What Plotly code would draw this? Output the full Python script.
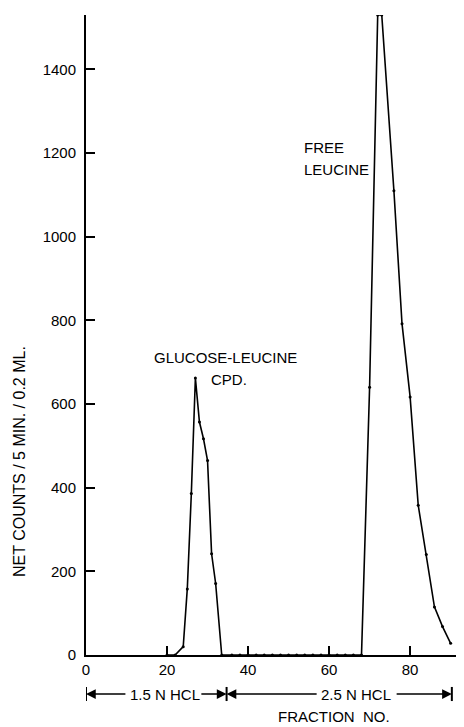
import plotly.graph_objects as go

# fraction number vs net counts (per 5 min / 0.2 ml)
fraction = [20, 22, 24, 25, 26, 27, 28, 29, 30, 31, 32, 33.5,
            36, 38, 40, 42, 44, 46, 48, 50, 52, 54, 56, 58, 60, 62, 64, 66,
            68, 70, 72, 73, 76, 78, 80, 82, 84, 86, 88, 90]
counts = [0, 0, 20, 158, 386, 662, 557, 517, 465, 242, 171, 0,
          0, 0, 0, 0, 0, 0, 0, 0, 0, 0, 0, 0, 0, 0, 0, 0,
          0, 640, 1530, 1530, 1110, 792, 617, 358, 240, 115, 68, 28]

x_ticks = [0, 20, 40, 60, 80]
y_ticks = [0, 200, 400, 600, 800, 1000, 1200, 1400]

FONT = "Liberation Sans, Arial, sans-serif"
text_font = dict(family=FONT, size=15, color="black")

fig = go.Figure(
    go.Scatter(
        x=fraction,
        y=counts,
        mode="lines+markers",
        line=dict(color="black", width=1.6),
        marker=dict(color="black", size=3),
        hoverinfo="x+y",
    )
)

axis_common = dict(
    showline=True,
    linecolor="black",
    linewidth=2,
    ticks="inside",
    ticklen=9,
    tickwidth=2,
    tickcolor="black",
    showgrid=False,
    zeroline=False,
    tickfont=dict(family=FONT, size=15, color="black"),
)
fig.update_xaxes(range=[0, 93.3], tickvals=x_ticks, ticklabelstandoff=0, **axis_common)
fig.update_yaxes(range=[0, 1530], tickvals=y_ticks, ticklabelstandoff=5, **axis_common)

# plot area is 378 x 640 px; helpers turn page pixels into paper coords
def px(x):
    return (x - 86) / 378


def py(y):
    return (655 - y) / 640


arrow_y = py(694)

annotations = [
    dict(x=px(152), y=py(357), text="GLUCOSE-LEUCINE", xanchor="left"),
    dict(x=px(229), y=py(379), text="CPD.", xanchor="center"),
    dict(x=px(302), y=py(147), text="FREE", xanchor="left"),
    dict(x=px(302), y=py(169), text="LEUCINE", xanchor="left"),
    dict(x=px(165), y=arrow_y, text="1.5 N HCL", xanchor="center"),
    dict(x=px(356), y=arrow_y, text="2.5 N HCL", xanchor="center"),
    dict(x=px(334), y=py(716), text="FRACTION  NO.", xanchor="center"),
]
for a in annotations:
    a.update(xref="paper", yref="paper", showarrow=False, font=text_font, yanchor="middle")

annotations.append(
    dict(x=px(19), y=py(462), xref="paper", yref="paper",
         text="NET COUNTS / 5 MIN. / 0.2 ML.", textangle=-90, showarrow=False,
         font=dict(family=FONT, size=16, color="black"), xanchor="center", yanchor="middle")
)

# solvent band arrows (head, tail) in fraction units
for head, tail in [(0, 10.1), (34.7, 28.1), (34.7, 57.3), (90.3, 76.3)]:
    annotations.append(
        dict(x=head, y=arrow_y, xref="x", yref="paper", ax=tail, ay=0, axref="x", ayref="pixel",
             text="", showarrow=True, arrowhead=2, arrowsize=1.3, arrowwidth=1.5,
             arrowcolor="black")
    )

shapes = [
    dict(type="line", xref="x", yref="paper", x0=xv, x1=xv,
         y0=arrow_y - 0.011, y1=arrow_y + 0.011, line=dict(color="black", width=2))
    for xv in [0, 34.7, 90.3]
]

# page body adds an 8px offset, so the figure is 8px smaller each way
fig.update_layout(
    width=456,
    height=719,
    margin=dict(l=78, r=0, t=7, b=72),
    plot_bgcolor="white",
    paper_bgcolor="white",
    showlegend=False,
    annotations=annotations,
    shapes=shapes,
)

fig.write_html("out.html")
